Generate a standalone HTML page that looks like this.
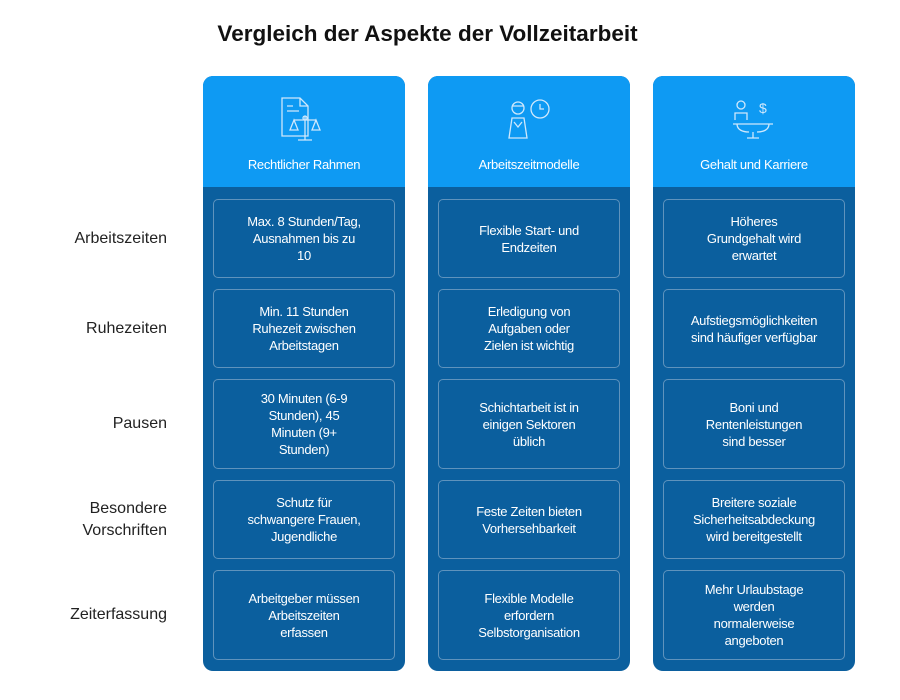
<!DOCTYPE html>
<html><head><meta charset="utf-8"><style>
body{margin:0;width:900px;height:700px;background:#fff;font-family:"Liberation Sans",sans-serif;position:relative;overflow:hidden}
.t{position:absolute;top:21px;left:0;width:855px;text-align:center;font-size:22.5px;font-weight:bold;color:#111;letter-spacing:0}
.col{position:absolute;top:76px;width:202px;height:595px;border-radius:10px;background:#0b5f9e;overflow:hidden}
.hd{position:absolute;top:0;left:0;width:202px;height:111px;background:#0e9af3}
.hd .lbl{position:absolute;top:81px;width:100%;text-align:center;color:#fff;font-size:13px;letter-spacing:-0.3px}
.cell{position:absolute;left:10px;width:182px;border:1px solid #5f93bd;border-radius:5px;box-sizing:border-box;display:flex;align-items:center;justify-content:center;text-align:center;color:#fff;font-size:13px;line-height:17px;letter-spacing:-0.3px;white-space:nowrap}
.rl{position:absolute;right:733px;text-align:right;font-size:16px;color:#222;line-height:22px}
svg{position:absolute;left:76px;top:20px}
</style></head><body>
<div class="t">Vergleich der Aspekte der Vollzeitarbeit</div>
<div class="rl" style="top:228px">Arbeitszeiten</div>
<div class="rl" style="top:318px">Ruhezeiten</div>
<div class="rl" style="top:413px">Pausen</div>
<div class="rl" style="top:498px">Besondere<br>Vorschriften</div>
<div class="rl" style="top:604px">Zeiterfassung</div>

<div class="col" style="left:203px"><div class="hd">
<svg width="50" height="50" viewBox="0 0 50 50" fill="none" stroke="#cfe8fc" stroke-width="1.3"><path d="M3 2h18l8 8v30H3z"/><path d="M21 2v8h8M8 10h6M8 15h12"/><path d="M26 20v24M19 44h14M15 24h22M15 24l-4 10h8zM37 24l-4 10h8z"/><circle cx="26" cy="22" r="2"/></svg>
<div class="lbl">Rechtlicher Rahmen</div></div>
<div class="cell" style="top:123px;height:79px">Max. 8 Stunden/Tag,<br>Ausnahmen bis zu<br>10</div>
<div class="cell" style="top:213px;height:79px">Min. 11 Stunden<br>Ruhezeit zwischen<br>Arbeitstagen</div>
<div class="cell" style="top:303px;height:90px">30 Minuten (6-9<br>Stunden), 45<br>Minuten (9+<br>Stunden)</div>
<div class="cell" style="top:404px;height:79px">Schutz für<br>schwangere Frauen,<br>Jugendliche</div>
<div class="cell" style="top:494px;height:90px">Arbeitgeber müssen<br>Arbeitszeiten<br>erfassen</div>
</div>

<div class="col" style="left:428px"><div class="hd">
<svg width="50" height="50" viewBox="0 0 50 50" fill="none" stroke="#cfe8fc" stroke-width="1.3"><circle cx="14" cy="12" r="6"/><path d="M8 10h12M5 42l3-20h12l3 20zM10 26l4 5 4-5"/><circle cx="36" cy="13" r="9"/><path d="M36 8v5h4"/></svg>
<div class="lbl">Arbeitszeitmodelle</div></div>
<div class="cell" style="top:123px;height:79px">Flexible Start- und<br>Endzeiten</div>
<div class="cell" style="top:213px;height:79px">Erledigung von<br>Aufgaben oder<br>Zielen ist wichtig</div>
<div class="cell" style="top:303px;height:90px">Schichtarbeit ist in<br>einigen Sektoren<br>üblich</div>
<div class="cell" style="top:404px;height:79px">Feste Zeiten bieten<br>Vorhersehbarkeit</div>
<div class="cell" style="top:494px;height:90px">Flexible Modelle<br>erfordern<br>Selbstorganisation</div>
</div>

<div class="col" style="left:653px"><div class="hd">
<svg width="50" height="50" viewBox="0 0 50 50" fill="none" stroke="#cfe8fc" stroke-width="1.3"><circle cx="12" cy="9" r="4"/><path d="M6 24v-7h12v7M4 28h40M8 28c0 6 6 8 12 8M40 28c0 6-6 8-12 8M24 36v6M18 42h12"/><text x="30" y="17" fill="#cfe8fc" stroke="none" font-size="14">$</text></svg>
<div class="lbl">Gehalt und Karriere</div></div>
<div class="cell" style="top:123px;height:79px">Höheres<br>Grundgehalt wird<br>erwartet</div>
<div class="cell" style="top:213px;height:79px">Aufstiegsmöglichkeiten<br>sind häufiger verfügbar</div>
<div class="cell" style="top:303px;height:90px">Boni und<br>Rentenleistungen<br>sind besser</div>
<div class="cell" style="top:404px;height:79px">Breitere soziale<br>Sicherheitsabdeckung<br>wird bereitgestellt</div>
<div class="cell" style="top:494px;height:90px">Mehr Urlaubstage<br>werden<br>normalerweise<br>angeboten</div>
</div>
</body></html>
